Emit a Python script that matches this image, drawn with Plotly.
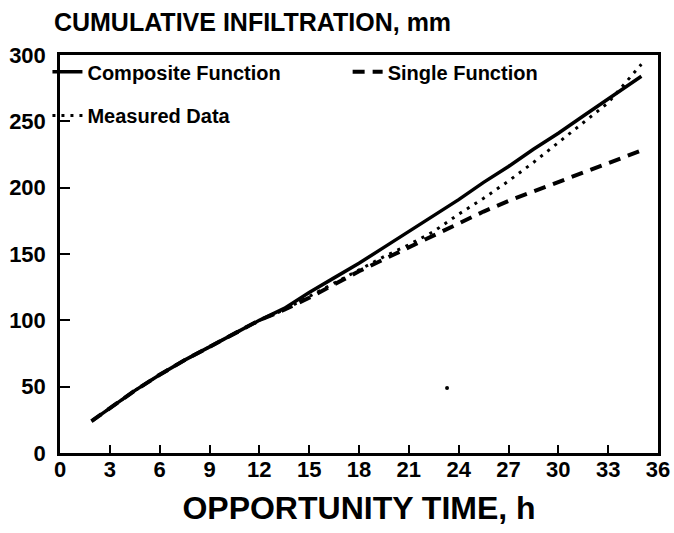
import plotly.graph_objects as go

# Opportunity time (h)
t_composite = [1.9, 3, 4.5, 6, 7.5, 9, 10.5, 12, 13.5, 15, 16.5, 18, 19.5, 21, 22.5, 24, 25.5, 27, 28.5, 30, 31.5, 33, 35]
composite = [24, 34, 47, 59, 70, 80, 90, 100, 109, 121, 132, 143, 155, 167, 179, 191, 204, 216, 229, 241, 254, 267, 284]

t_single = [1.9, 3, 4.5, 6, 7.5, 9, 10.5, 12, 13.5, 15, 16.5, 18, 19.5, 21, 22.5, 24, 25.5, 27, 28.5, 30, 31.5, 33, 35]
single = [24, 34, 47, 59, 70, 80, 90, 100, 108, 117, 127, 137, 146, 155, 164, 173, 182, 190, 197, 204, 211, 218, 228]

t_measured = [1.9, 3, 4.5, 6, 7.5, 9, 10.5, 12, 13.5, 15, 16.5, 18, 19.5, 21, 22.5, 24, 25.5, 27, 28.5, 30, 31.5, 33, 35]
measured = [24, 34, 47, 59, 70, 80, 90, 100, 108, 118, 128, 138, 148, 157, 167, 180, 192, 205, 219, 234, 249, 264, 293]

speck_t = [23.3]
speck_v = [49]

x_ticks = list(range(0, 37, 3))
y_ticks = list(range(0, 301, 50))

FONT = "Liberation Sans, Arial, Helvetica, sans-serif"

fig = go.Figure()
fig.add_trace(go.Scatter(x=t_composite, y=composite, mode="lines", name="<b>Composite Function</b>",
                         line=dict(color="black", width=3.5), legend="legend"))
fig.add_trace(go.Scatter(x=t_single, y=single, mode="lines", name="<b>Single Function</b>",
                         line=dict(color="black", width=4, dash="12px,8px"), legend="legend3"))
fig.add_trace(go.Scatter(x=t_measured, y=measured, mode="lines", name="<b>Measured Data</b>",
                         line=dict(color="black", width=3, dash="3px,6px"), legend="legend2"))
fig.add_trace(go.Scatter(x=speck_t, y=speck_v, mode="markers", showlegend=False,
                         marker=dict(color="black", size=4)))

axis_common = dict(showline=True, linecolor="black", linewidth=2.5, mirror=True, automargin=False,
                   ticks="inside", tickcolor="black", tickwidth=2, showgrid=False, zeroline=False,
                   tickfont=dict(family=FONT, size=22, color="black"))

fig.update_xaxes(range=[0, 36], tickvals=x_ticks, ticktext=[f"<b>{v}</b>" for v in x_ticks], ticklen=8,
                 ticklabelstandoff=-5,
                 title=dict(text="<b>OPPORTUNITY TIME, h</b>", font=dict(family=FONT, size=32, color="black"), standoff=16),
                 **axis_common)
fig.update_yaxes(range=[0, 300], tickvals=y_ticks, ticktext=[f"<b>{v}</b>" for v in y_ticks], ticklen=10,
                 ticklabelstandoff=7, **axis_common)

legend_font = dict(family=FONT, size=20, color="black")
fig.update_layout(
    width=674, height=533,
    margin=dict(l=60, r=16, t=55, b=80, autoexpand=False),
    paper_bgcolor="white", plot_bgcolor="white",
    title=dict(text="<b>CUMULATIVE INFILTRATION, mm</b>", x=0.080, xanchor="left", y=0.958, yanchor="middle",
               font=dict(family=FONT, size=25, color="black")),
    legend=dict(orientation="h", x=-0.021, xanchor="left", y=1.007, yanchor="top",
                bgcolor="rgba(0,0,0,0)", font=legend_font),
    legend3=dict(orientation="h", x=0.481, xanchor="left", y=1.007, yanchor="top",
                 bgcolor="rgba(0,0,0,0)", font=legend_font),
    legend2=dict(orientation="h", x=-0.021, xanchor="left", y=0.897, yanchor="top",
                 bgcolor="rgba(0,0,0,0)", font=legend_font),
)

fig.write_html("out.html", config={"displayModeBar": False},
               post_script="document.body.style.margin='0';")
